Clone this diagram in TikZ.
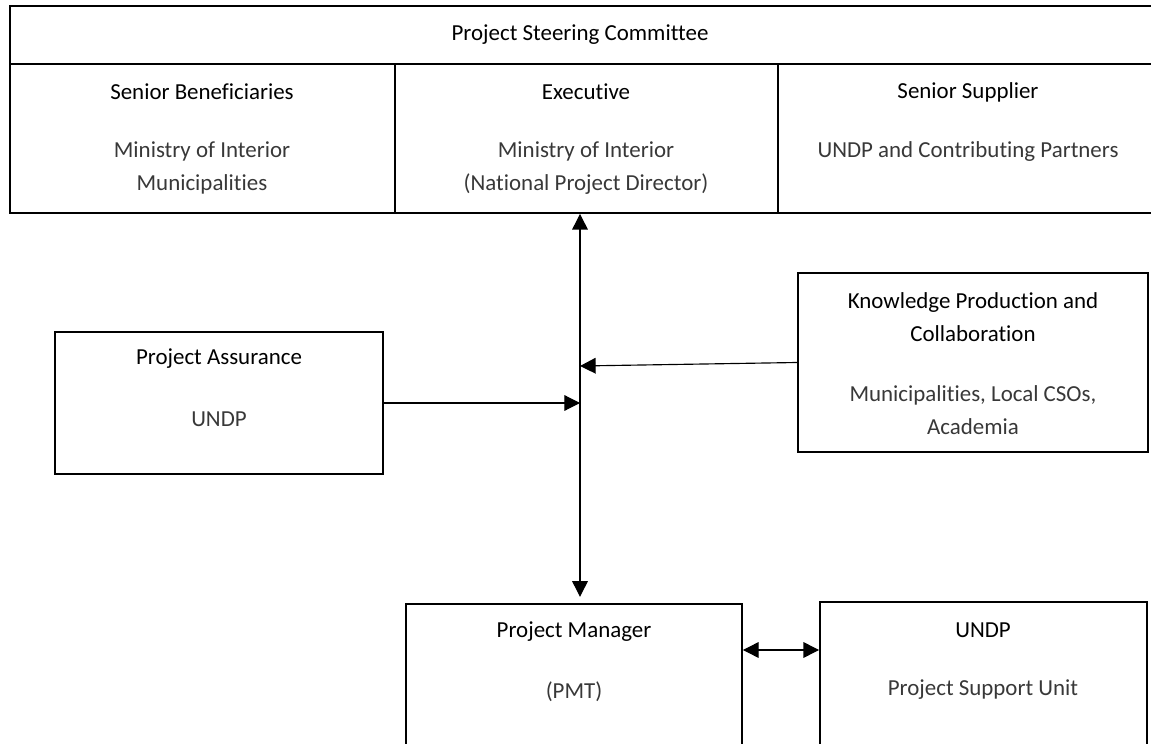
\documentclass[tikz,border=0pt]{standalone}
\usepackage{fontspec}
\setmainfont{Carlito}[Ligatures=NoCommon]
\usetikzlibrary{arrows.meta,fit}

\begin{document}
\begin{tikzpicture}[x=0.48pt,y=-0.48pt,line cap=rect,line join=miter,
  box/.style={draw,line width=0.9pt,inner sep=0pt},
  head/.style={font=\fontsize{11}{15.8}\selectfont,text=black,align=center},
  body/.style={font=\fontsize{11}{15.8}\selectfont,text=black!78,align=center},
  link/.style={line width=0.55pt,-{Triangle[length=7.5pt,width=7.5pt]}},
  both/.style={line width=0.55pt,{Triangle[length=7.5pt,width=7.5pt]}-{Triangle[length=7.5pt,width=7.5pt]}}]
  \useasboundingbox (0,0) rectangle (1151,744);
  \clip (0,0) rectangle (1151,744);
  % steering committee table
  \node[box,fit={(10,6) (1175,64)}] (psc) {};
  \node[box,fit={(10,64) (395,213)}] (benef) {};
  \node[box,fit={(395,64) (778,213)}] (exec) {};
  \node[box,fit={(778,64) (1175,213)}] (supp) {};
  \node[head] (psct) at (580,35) {Project Steering Committee};
  \node[head] (beneft) at (202,92) {Senior Beneficiaries};
  \node[body] (benefb) at (202,168) {Ministry of Interior\\Municipalities};
  \node[head] (exect) at (586,92) {Executive};
  \node[body] (execb) at (586,168) {Ministry of Interior\\(National Project Director)};
  \node[head] (suppt) at (968,92) {Senior Supplier};
  \node[body] (suppb) at (968,152) {UNDP and Contributing Partners};
  % side boxes
  \node[box,fit={(55,332) (383,474)}] (pa) {};
  \node[head] at (219,359) {Project Assurance};
  \node[body] at (219,419) {UNDP};
  \node[box,fit={(798,273) (1148,452)}] (kp) {};
  \node[head] at (973,317) {Knowledge Production and\\Collaboration};
  \node[body] at (973,410) {Municipalities, Local CSOs,\\Academia};
  % bottom boxes
  \node[box,fit={(406,604) (742,800)}] (pm) {};
  \node[head] at (574,632) {Project Manager};
  \node[body] at (574,692) {(PMT)};
  \node[box,fit={(820,602) (1147,800)}] (pu) {};
  \node[head] at (983,630) {UNDP};
  \node[body] at (983,690) {Project Support Unit};
  % connectors
  \coordinate (hub) at (580,366);
  \coordinate (mid) at (780,650);
  \draw[both] (exec.south -| hub) -- ([yshift=3pt]pm.north -| hub);
  \draw[link] (pa.east) -- (pa.east -| hub);
  \draw[link] (kp.west) -- (hub);
  \draw[both] (pm.east |- mid) -- (pu.west |- mid);
\end{tikzpicture}
\end{document}
